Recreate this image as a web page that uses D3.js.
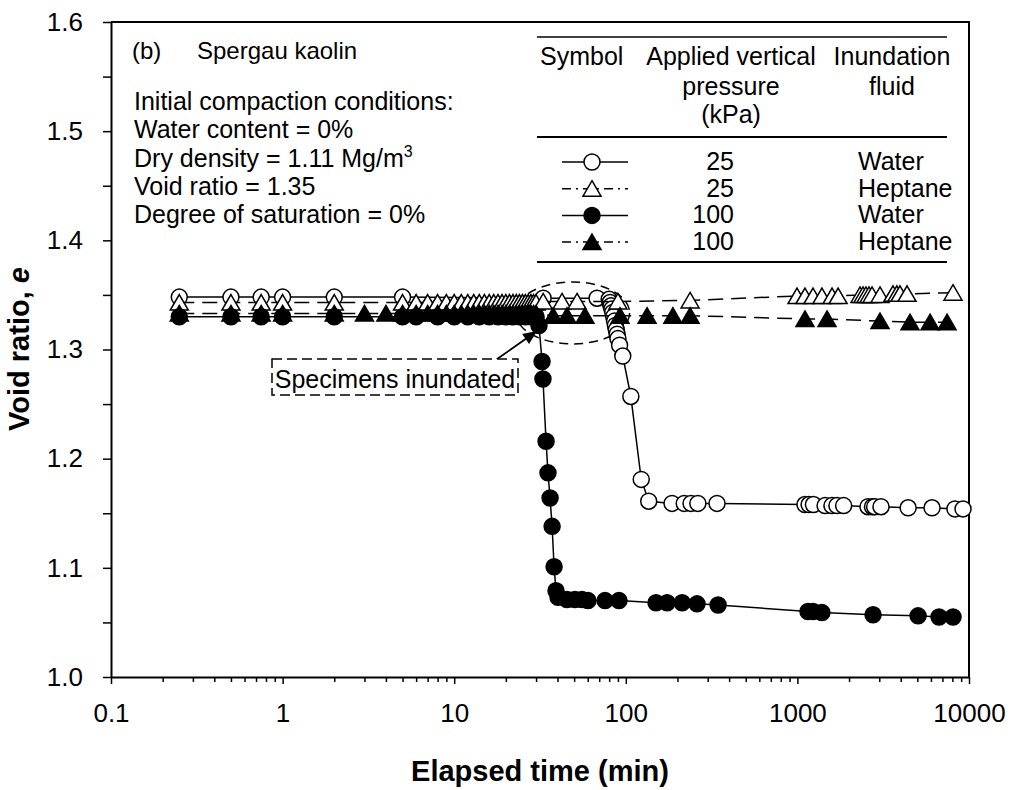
<!DOCTYPE html>
<html>
<head>
<meta charset="utf-8">
<script src="https://cdn.jsdelivr.net/npm/d3@7"></script>
<style>
body { margin: 0; background: #fff; }
svg text { font-family: "Liberation Sans", Arial, Helvetica, sans-serif; fill: #000; }
</style>
</head>
<body>
<div id="container"></div>
<script>
// elapsed time (min) and void ratio
var t25Water = [0.25, 0.5, 0.75, 1, 2, 5, 33, 68, 80, 81, 82, 83, 84, 85, 86, 87, 88, 89, 90, 92,
  96, 107, 123, 136, 186, 219, 240, 263, 340, 1107, 1170, 1240, 1450, 1590, 1700, 1860,
  2580, 2740, 2820, 3070, 4420, 6090, 8280, 9230];
var e25Water = [1.348, 1.348, 1.348, 1.348, 1.348, 1.348, 1.347, 1.347, 1.346, 1.343, 1.340, 1.337,
  1.334, 1.330, 1.326, 1.322, 1.318, 1.314, 1.310, 1.304, 1.294, 1.257, 1.181, 1.161, 1.159,
  1.159, 1.159, 1.159, 1.159, 1.158, 1.158, 1.158, 1.157, 1.157, 1.157, 1.157, 1.156, 1.156,
  1.156, 1.156, 1.155, 1.155, 1.154, 1.154];

var t25Hept = [0.25, 0.5, 0.75, 1, 2, 5, 6, 7, 8, 9, 10, 11, 12, 13, 14, 15, 16, 17, 18, 19, 20,
  21, 22, 23, 24, 25, 26, 27, 28, 29, 30, 33, 42.5, 52, 90, 237, 995, 1107, 1233, 1390, 1592,
  1727, 2317, 2412, 2510, 2614, 2722, 3030, 3605, 3800, 3961, 4355, 8070];
var e25Hept = [1.343, 1.343, 1.343, 1.343, 1.343, 1.343, 1.343, 1.343, 1.343, 1.343, 1.343, 1.343,
  1.343, 1.343, 1.343, 1.343, 1.343, 1.343, 1.343, 1.343, 1.343, 1.343, 1.343, 1.343, 1.343,
  1.343, 1.343, 1.343, 1.343, 1.343, 1.343, 1.344, 1.344, 1.344, 1.344, 1.345, 1.349, 1.349,
  1.349, 1.349, 1.349, 1.349, 1.350, 1.350, 1.350, 1.350, 1.350, 1.350, 1.351, 1.351, 1.351,
  1.351, 1.352];

var t100Water = [0.25, 0.5, 0.75, 1, 2, 5, 6, 8, 10, 12, 14, 16, 18, 20, 22, 24, 26, 28, 30,
  31.2, 32.5, 32.9, 34.3, 35.2, 36.2, 37.2, 38.2, 39.2, 40.3, 45.4, 50.5, 55.6, 60.2, 75.7,
  91.3, 150, 174, 213, 260, 345, 1153, 1233, 1390, 2760, 5050, 6690, 8070];
var e100Water = [1.330, 1.330, 1.330, 1.330, 1.330, 1.330, 1.330, 1.330, 1.330, 1.330, 1.330,
  1.330, 1.330, 1.330, 1.330, 1.330, 1.330, 1.330, 1.330, 1.322, 1.289, 1.273, 1.216, 1.187,
  1.164, 1.138, 1.101, 1.079, 1.073, 1.071, 1.071, 1.071, 1.070, 1.070, 1.070, 1.068, 1.068,
  1.068, 1.067, 1.066, 1.060, 1.060, 1.059, 1.057, 1.056, 1.055, 1.055];

var t100Hept = [0.25, 0.5, 0.75, 1, 2, 3, 4, 5, 6, 7, 8, 9, 10, 11, 12, 13, 14, 15, 16, 17, 18,
  19, 20, 21, 22, 23, 24, 25, 26, 27, 28, 29, 30, 37.7, 45.4, 57.8, 92.5, 133, 188, 237, 1107,
  1488, 3030, 4530, 5930, 7450];
var e100Hept = [1.333, 1.333, 1.333, 1.333, 1.333, 1.333, 1.333, 1.333, 1.333, 1.333, 1.333,
  1.333, 1.333, 1.333, 1.333, 1.333, 1.333, 1.333, 1.333, 1.333, 1.333, 1.333, 1.333, 1.333,
  1.333, 1.333, 1.333, 1.333, 1.333, 1.333, 1.333, 1.333, 1.333, 1.331, 1.331, 1.331, 1.331,
  1.331, 1.331, 1.331, 1.328, 1.328, 1.326, 1.325, 1.325, 1.325];

var xTicks = [0.1, 1, 10, 100, 1000, 10000];
var xTickLabels = ['0.1', '1', '10', '100', '1000', '10000'];
var yTicks = [1.0, 1.05, 1.1, 1.15, 1.2, 1.25, 1.3, 1.35, 1.4, 1.45, 1.5, 1.55, 1.6];
var yTickLabels = ['1.0', '', '1.1', '', '1.2', '', '1.3', '', '1.4', '', '1.5', '', '1.6'];

var pressures = ['25', '25', '100', '100'];
var fluids = ['Water', 'Heptane', 'Water', 'Heptane'];

var series = [
  { t: t25Water, e: e25Water, shape: 'circle', fill: '#fff', dashed: false },
  { t: t25Hept, e: e25Hept, shape: 'triangle', fill: '#fff', dashed: true },
  { t: t100Water, e: e100Water, shape: 'circle', fill: '#000', dashed: false },
  { t: t100Hept, e: e100Hept, shape: 'triangle', fill: '#000', dashed: true }
];

var svg = d3.select('#container').append('svg')
  .attr('width', 1017).attr('height', 790);

var x = d3.scaleLog().domain([0.1, 10000]).range([111, 969]),
    y = d3.scaleLinear().domain([1.0, 1.6]).range([677, 22]);

var DASH = '15,8';

function drawMarker(sel, shape, fill) {
  if (shape == 'circle') {
    sel.append('circle').attr('r', 8)
      .attr('fill', fill).attr('stroke', '#000').attr('stroke-width', 1.5);
  } else {
    sel.append('path').attr('d', 'M0,-8L9,7.5L-9,7.5Z')
      .attr('fill', fill).attr('stroke', '#000').attr('stroke-width', 1.5)
      .attr('stroke-linejoin', 'miter');
  }
}

// axes
var minorX = [];
xTicks.slice(0, -1).forEach(function(d) {
  for (var k = 2; k < 10; k++) minorX.push(d * k);
});

svg.append('g').attr('transform', 'translate(0,677)')
  .call(d3.axisBottom(x).tickValues(xTicks).tickSize(7).tickSizeOuter(0).tickPadding(20)
    .tickFormat(function(d, i) { return xTickLabels[i]; }));
svg.append('g').attr('transform', 'translate(0,677)')
  .call(d3.axisBottom(x).tickValues(minorX).tickSize(5).tickSizeOuter(0).tickFormat(''))
  .select('.domain').remove();

svg.append('g').attr('transform', 'translate(111,0)')
  .call(d3.axisLeft(y).tickValues(yTicks).tickSize(8).tickSizeOuter(0).tickPadding(20)
    .tickFormat(function(d, i) { return yTickLabels[i]; }));

svg.selectAll('.tick text').attr('font-size', 26)
  .attr('font-family', '"Liberation Sans", Arial, sans-serif').attr('fill', '#000');
svg.selectAll('.tick line').attr('stroke-width', 1.5);
svg.selectAll('.domain').attr('stroke-width', 2);

// frame top + right
svg.append('path')
  .attr('d', 'M' + x.range()[0] + ',' + y.range()[1] + 'H' + x.range()[1] + 'V' + y.range()[0])
  .attr('fill', 'none').attr('stroke', '#000').attr('stroke-width', 2);

// axis titles
svg.append('text').attr('x', 540).attr('y', 781).attr('text-anchor', 'middle')
  .attr('font-size', 29).attr('font-weight', 'bold').text('Elapsed time (min)');
var yt = svg.append('text').attr('transform', 'translate(29,349) rotate(-90)')
  .attr('text-anchor', 'middle').attr('font-size', 29).attr('font-weight', 'bold');
yt.append('tspan').text('Void ratio, ');
yt.append('tspan').attr('font-style', 'italic').text('e');

// annotations (behind data)
var ell = { t: 49, e: 1.3335, rx: 57, ry: 31 };
svg.append('ellipse').attr('cx', x(ell.t)).attr('cy', y(ell.e))
  .attr('rx', ell.rx).attr('ry', ell.ry)
  .attr('fill', 'none').attr('stroke', '#000').attr('stroke-width', 1.5)
  .attr('stroke-dasharray', '9,6');

// series
var line = d3.line().x(function(d) { return x(d[0]); }).y(function(d) { return y(d[1]); });

series.forEach(function(s) {
  var pts = s.t.map(function(t, i) { return [t, s.e[i]]; });
  var g = svg.append('g');
  g.append('path').datum(pts).attr('d', line)
    .attr('fill', 'none').attr('stroke', '#000').attr('stroke-width', 1.5)
    .attr('stroke-dasharray', s.dashed ? DASH : null);
  g.selectAll('g.m').data(pts).enter().append('g').attr('class', 'm')
    .attr('transform', function(d) { return 'translate(' + x(d[0]) + ',' + y(d[1]) + ')'; })
    .each(function() { drawMarker(d3.select(this), s.shape, s.fill); });
});

// arrow + box
var arrowFrom = { t: 17.7, e: 1.291 }, arrowTo = { t: 30.4, e: 1.317 };
var ax0 = x(arrowFrom.t), ay0 = y(arrowFrom.e), ax1 = x(arrowTo.t), ay1 = y(arrowTo.e);
var ang = Math.atan2(ay1 - ay0, ax1 - ax0);
svg.append('line').attr('x1', ax0).attr('y1', ay0)
  .attr('x2', ax1 - 8 * Math.cos(ang)).attr('y2', ay1 - 8 * Math.sin(ang))
  .attr('stroke', '#000').attr('stroke-width', 1.8);
var hl = 14, hw = 6;
svg.append('path').attr('d',
  'M' + ax1 + ',' + ay1 +
  'L' + (ax1 - hl * Math.cos(ang) - hw * Math.sin(ang)) + ',' + (ay1 - hl * Math.sin(ang) + hw * Math.cos(ang)) +
  'L' + (ax1 - hl * Math.cos(ang) + hw * Math.sin(ang)) + ',' + (ay1 - hl * Math.sin(ang) - hw * Math.cos(ang)) + 'Z')
  .attr('fill', '#000');

svg.append('rect').attr('x', 272).attr('y', 359).attr('width', 246).attr('height', 36)
  .attr('fill', '#fff').attr('stroke', '#000').attr('stroke-width', 1.5)
  .attr('stroke-dasharray', '10,5');
svg.append('text').attr('x', 395).attr('y', 388).attr('text-anchor', 'middle')
  .attr('font-size', 25).text('Specimens inundated');

// text block
svg.append('text').attr('x', 132).attr('y', 59).attr('font-size', 24).text('(b)');
svg.append('text').attr('x', 197).attr('y', 59).attr('font-size', 24).text('Spergau kaolin');
var info = ['Initial compaction conditions:', 'Water content = 0%', 'Dry density = 1.11 Mg/m',
  'Void ratio = 1.35', 'Degree of saturation = 0%'];
info.forEach(function(s, i) {
  var tx = svg.append('text').attr('x', 134).attr('y', 110 + i * 28.3).attr('font-size', 25).text(s);
  if (i == 2) tx.append('tspan').attr('font-size', 16).attr('dy', -10).text('3');
});

// legend table
var lg = svg.append('g');
[37, 137, 262].forEach(function(yy, i) {
  lg.append('line').attr('x1', 537).attr('x2', 947).attr('y1', yy).attr('y2', yy)
    .attr('stroke', '#000').attr('stroke-width', i == 0 ? 1.5 : 2);
});
lg.append('text').attr('x', 540).attr('y', 65).attr('font-size', 25).text('Symbol');
[['Applied vertical', 65], ['pressure', 95], ['(kPa)', 123]].forEach(function(r) {
  lg.append('text').attr('x', 731).attr('y', r[1]).attr('text-anchor', 'middle')
    .attr('font-size', 25).text(r[0]);
});
[['Inundation', 65], ['fluid', 95]].forEach(function(r) {
  lg.append('text').attr('x', 892).attr('y', r[1]).attr('text-anchor', 'middle')
    .attr('font-size', 25).text(r[0]);
});
series.forEach(function(s, i) {
  var by = 170 + i * 26.7, my = by - 8;
  lg.append('line').attr('x1', 562).attr('x2', 628).attr('y1', my).attr('y2', my)
    .attr('stroke', '#000').attr('stroke-width', 1.5)
    .attr('stroke-dasharray', s.dashed ? '9,5,2,5' : null);
  drawMarker(lg.append('g').attr('transform', 'translate(592,' + my + ')'), s.shape, s.fill);
  lg.append('text').attr('x', 734).attr('y', by).attr('text-anchor', 'end')
    .attr('font-size', 25).text(pressures[i]);
  lg.append('text').attr('x', 858).attr('y', by).attr('font-size', 25).text(fluids[i]);
});
</script>
</body>
</html>
